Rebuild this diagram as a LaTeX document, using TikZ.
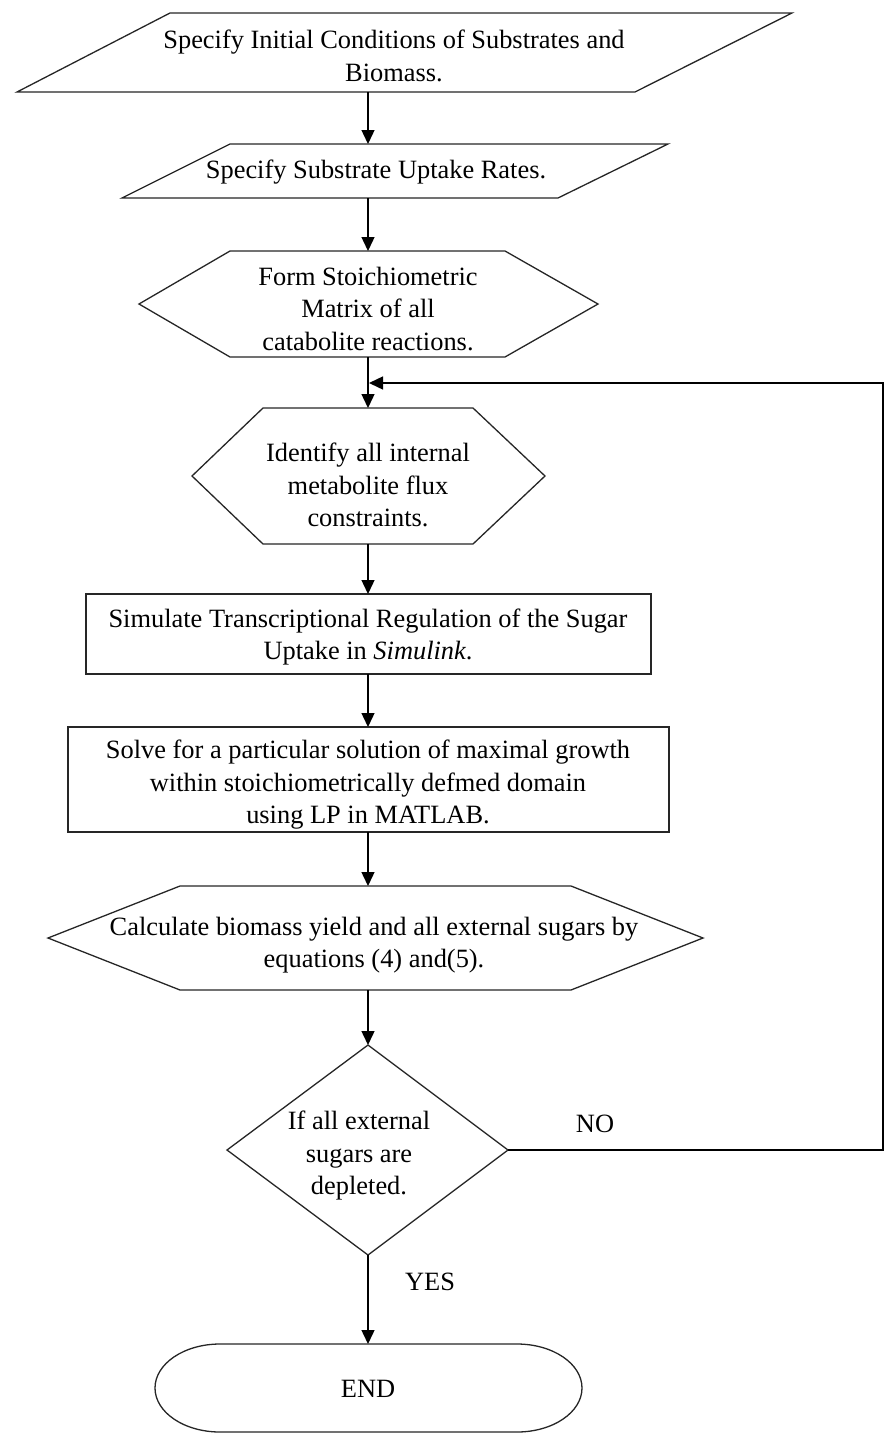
\documentclass[tikz,border=0pt]{standalone}
\usepackage{fontspec}
\setmainfont{Liberation Serif}
\usetikzlibrary{arrows.meta}
\begin{document}
\begin{tikzpicture}[x=1pt,y=-1pt,
  box/.style={draw=black!85,line width=1.3pt,fill=white},
  lbl/.style={font=\fontsize{26.4}{32.5}\selectfont,align=center,inner sep=0pt},
  arr/.style={draw=black,line width=1.4pt,-{Triangle[length=14pt,width=13pt]}},
  ln/.style={draw=black,line width=1.4pt}]
\useasboundingbox (0,0) rectangle (885,1435);
% shapes
\draw[box] (170,13) -- (792,13) -- (635,92) -- (17,92) -- cycle;
\draw[box] (230,144) -- (668,144) -- (558,198) -- (122,198) -- cycle;
\draw[box] (230,251) -- (505,251) -- (598,304) -- (505,357) -- (230,357) -- (139,304) -- cycle;
\draw[box] (263,408) -- (473,408) -- (545,476) -- (473,544) -- (263,544) -- (192,476) -- cycle;
\draw[box] (86,594) rectangle (651,674);
\draw[box] (68,727) rectangle (669,832);
\draw[box] (180,886) -- (571,886) -- (703,938) -- (571,990) -- (180,990) -- (48,938) -- cycle;
\draw[box] (368,1045) -- (508,1150) -- (368,1255) -- (227,1150) -- cycle;
\draw[box] (220,1344) -- (517,1344) arc[start angle=-90,end angle=90,x radius=65,y radius=44]
  -- (220,1432) arc[start angle=90,end angle=270,x radius=65,y radius=44] -- cycle;
% texts
\node[lbl] (t1) at (394,56) {Specify Initial Conditions of Substrates and\\Biomass.};
\node[lbl] (t2) at (376,172) {Specify Substrate Uptake Rates.};
\node[lbl] (t3) at (368,309) {Form Stoichiometric\\Matrix of all\\catabolite reactions.};
\node[lbl] (t4) at (368,485) {Identify all internal\\metabolite flux\\constraints.};
\node[lbl] (t5) at (368,637) {Simulate Transcriptional Regulation of the Sugar\\Uptake in \textit{Simulink}.};
\node[lbl] (t6) at (368,785) {Solve for a particular solution of maximal growth\\within stoichiometrically defmed domain\\using LP in MATLAB.};
\node[lbl] (t7) at (374,945) {Calculate biomass yield and all external sugars by\\equations (4) and(5).};
\node[lbl] (t8) at (359,1156) {If all external\\sugars are\\depleted.};
\node[lbl] (t9) at (368,1389) {END};
\node[lbl] (no) at (595,1124) {NO};
\node[lbl] (yes) at (430,1282) {YES};
% anchor coordinates
\coordinate (b1) at (368,92);
\coordinate (a2) at (368,144);
\coordinate (b2) at (368,198);
\coordinate (a3) at (368,251);
\coordinate (b3) at (368,357);
\coordinate (a4) at (368,408);
\coordinate (b4) at (368,544);
\coordinate (a5) at (368,594);
\coordinate (b5) at (368,674);
\coordinate (a6) at (368,727);
\coordinate (b6) at (368,832);
\coordinate (a7) at (368,886);
\coordinate (b7) at (368,990);
\coordinate (a8) at (368,1045);
\coordinate (r8) at (508,1150);
\coordinate (b8) at (368,1255);
\coordinate (a9) at (368,1344);
\coordinate (c1) at (883,1150);
\coordinate (c2) at (883,383);
\coordinate (j) at (369,383);
% connectors
\draw[arr] (b1) -- (a2);
\draw[arr] (b2) -- (a3);
\draw[arr] (b3) -- (a4);
\draw[arr] (b4) -- (a5);
\draw[arr] (b5) -- (a6);
\draw[arr] (b6) -- (a7);
\draw[arr] (b7) -- (a8);
\draw[arr] (b8) -- (a9);
\draw[arr] (r8) -- (c1) -- (c2) -- (j);
\end{tikzpicture}
\end{document}
